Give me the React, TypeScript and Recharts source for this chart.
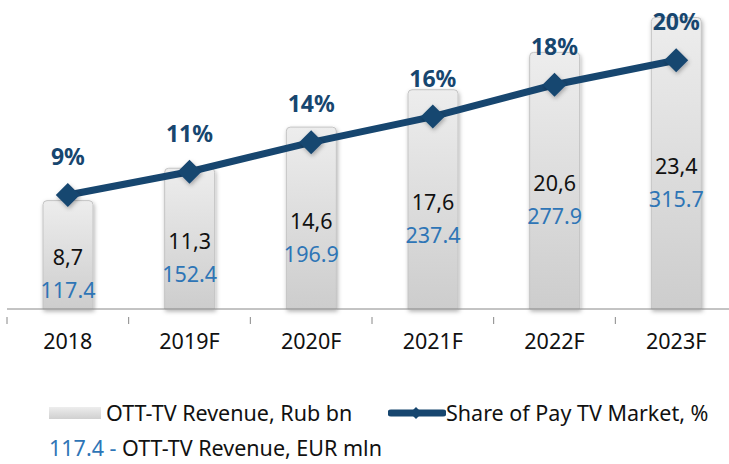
import { ComposedChart, Bar, Line, XAxis, YAxis, LabelList } from "recharts";

const years = ["2018", "2019F", "2020F", "2021F", "2022F", "2023F"];
const revenueRub = [8.7, 11.3, 14.6, 17.6, 20.6, 23.4];
const revenueEur = [117.4, 152.4, 196.9, 237.4, 277.9, 315.7];
const shareValues = [9.0, 10.9, 13.3, 15.4, 18.0, 20.0];
const shareLabels = ["9%", "11%", "14%", "16%", "18%", "20%"];

const data = years.map((year, i) => ({
  year,
  rub: revenueRub[i],
  eur: revenueEur[i],
  share: shareValues[i],
  shareLabel: shareLabels[i],
}));

const FONT = "'Noto Sans', 'Open Sans', sans-serif";
const NAVY = "#17466f";
const BLUE = "#2e75b6";

const CHART_W = 740;
const MARGIN = { top: 10, right: 3, left: 7, bottom: 115 };
const STEP = (CHART_W - MARGIN.left - MARGIN.right) / years.length;

function YearTick(props: any) {
  const { x, y, payload, index } = props;
  return (
    <g>
      <line x1={x - STEP / 2} x2={x - STEP / 2} y1={y} y2={y + 7} stroke="#888" />
      {index === years.length - 1 && (
        <line x1={x + STEP / 2} x2={x + STEP / 2} y1={y} y2={y + 7} stroke="#888" />
      )}
      <text x={x} y={y + 32} textAnchor="middle" fontSize={21.5} fill="#111" fontFamily={FONT}>
        {payload.value}
      </text>
    </g>
  );
}

function Diamond(props: any) {
  const { cx, cy } = props;
  const r = 12;
  return (
    <polygon
      points={`${cx},${cy - r} ${cx + r},${cy} ${cx},${cy + r} ${cx - r},${cy}`}
      fill={NAVY}
      filter="url(#shadow)"
    />
  );
}

function BarValues(props: any) {
  const { x, y, width, height, index } = props;
  const cx = x + width / 2;
  const bottom = y + height;
  const top = Math.min(y + height / 2 + 3, bottom - 46);
  return (
    <g fontFamily={FONT} fontSize={21.5} textAnchor="middle">
      <text x={cx} y={top} dy="0.35em" fill="#111">
        {revenueRub[index].toFixed(1).replace(".", ",")}
      </text>
      <text x={cx} y={top + 33} dy="0.35em" fill={BLUE}>
        {revenueEur[index].toFixed(1)}
      </text>
    </g>
  );
}

function ShareLabel(props: any) {
  const { x, y, index } = props;
  return (
    <text
      x={x}
      y={y - 38}
      dy="0.35em"
      textAnchor="middle"
      fontSize={23}
      fontWeight="bold"
      fill={NAVY}
      fontFamily={FONT}
    >
      {shareLabels[index]}
    </text>
  );
}

export default function App() {
  return (
    <div style={{ position: "absolute", left: 0, top: 0, width: 729, height: 464, overflow: "hidden", background: "#fff", fontFamily: FONT }}>
      <ComposedChart width={CHART_W} height={464} data={data} margin={MARGIN} barCategoryGap={0}>
        <defs>
          <linearGradient id="barFill" x1="0" y1="0" x2="0" y2="1">
            <stop offset="0%" stopColor="#ededed" />
            <stop offset="100%" stopColor="#cdcdcd" />
          </linearGradient>
          <filter id="shadow" x="-30%" y="-10%" width="160%" height="130%">
            <feDropShadow dx="1" dy="2" stdDeviation="2" floodColor="#000" floodOpacity="0.3" />
          </filter>
        </defs>
        <XAxis
          dataKey="year"
          height={40}
          axisLine={{ stroke: "#888" }}
          tickLine={false}
          tick={<YearTick />}
          interval={0}
        />
        <YAxis yAxisId="rub" hide domain={[0, 24]} />
        <YAxis yAxisId="share" hide orientation="right" domain={[-0.3, 24.1]} />
        <Bar
          yAxisId="rub"
          dataKey="rub"
          barSize={50}
          fill="url(#barFill)"
          stroke="#c4c4c4"
          radius={[4, 4, 0, 0]}
          filter="url(#shadow)"
          isAnimationActive={false}
        >
          <LabelList dataKey="rub" content={<BarValues />} />
        </Bar>
        <Line
          yAxisId="share"
          dataKey="share"
          stroke={NAVY}
          strokeWidth={7}
          dot={<Diamond />}
          activeDot={false}
          isAnimationActive={false}
        >
          <LabelList dataKey="share" content={<ShareLabel />} />
        </Line>
      </ComposedChart>
      <div style={{ position: "absolute", left: 0, top: 0, fontSize: 21.5, color: "#111", whiteSpace: "nowrap" }}>
        <span style={{ position: "absolute", left: 49, top: 407, width: 52, height: 12, background: "linear-gradient(#ededed, #d0d0d0)" }} />
        <span style={{ position: "absolute", left: 106, top: 398 }}>OTT-TV Revenue, Rub bn</span>
        <svg width={58} height={16} style={{ position: "absolute", left: 388, top: 405 }}>
          <line x1={3} x2={55} y1={8} y2={8} stroke={NAVY} strokeWidth={7} strokeLinecap="round" />
          <polygon points="28,2 34,8 28,14 22,8" fill={NAVY} />
        </svg>
        <span style={{ position: "absolute", left: 446, top: 398 }}>Share of Pay TV Market, %</span>
        <span style={{ position: "absolute", left: 49, top: 433 }}>
          <span style={{ color: BLUE }}>117.4 - </span>OTT-TV Revenue, EUR mln
        </span>
      </div>
    </div>
  );
}
